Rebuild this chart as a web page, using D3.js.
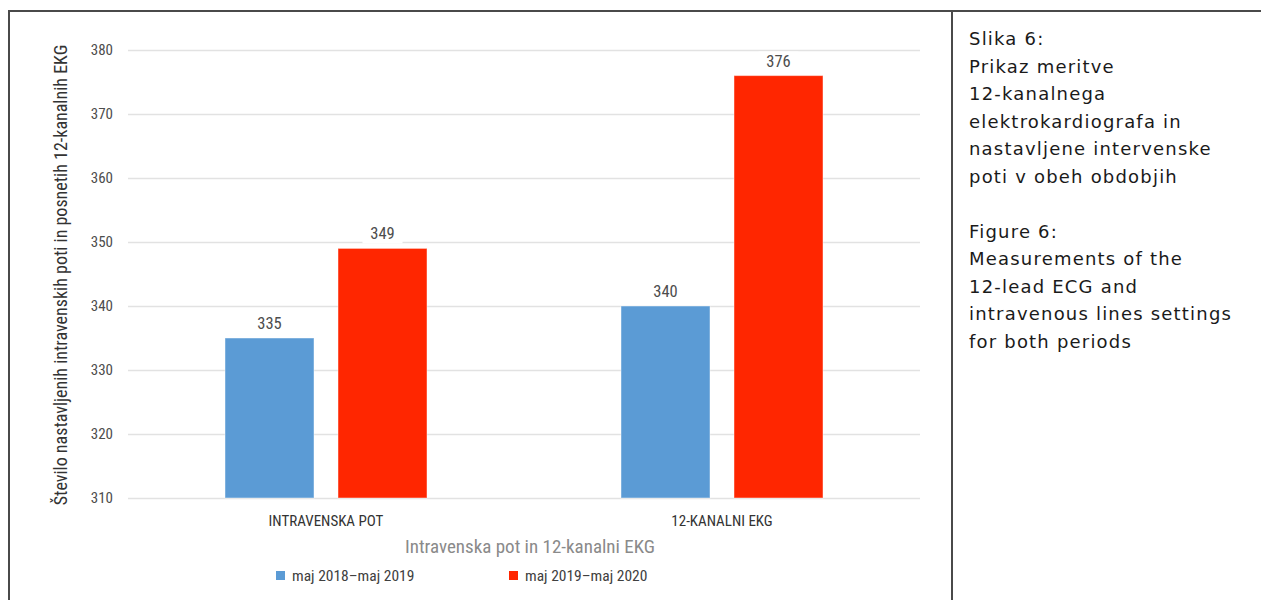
<!DOCTYPE html>
<html>
<head>
<meta charset="utf-8">
<script src="https://cdn.jsdelivr.net/npm/d3@7/dist/d3.min.js"></script>
<style>
  html, body { margin: 0; padding: 0; background: #fff; }
  svg { display: block; }
  .narrow { font-family: "Liberation Sans Narrow", "Roboto Condensed", "Arial Narrow", sans-serif; }
  .caption { font-family: "DejaVu Sans", "Noto Sans", sans-serif; letter-spacing: 1.2px; }
</style>
</head>
<body>
<svg id="chart" width="1261" height="600"></svg>
<script>
// Categories, series and values
const categories = ["INTRAVENSKA POT", "12-KANALNI EKG"];
const seriesNames = ["maj 2018–maj 2019", "maj 2019–maj 2020"];
const seriesColors = ["#5B9BD5", "#FF2600"];
const period1 = [335, 340];
const period2 = [349, 376];
const yTicks = [310, 320, 330, 340, 350, 360, 370, 380];

const yTitle = "Število nastavljenih intravenskih poti in posnetih 12-kanalnih EKG";
const xTitle = "Intravenska pot in 12-kanalni EKG";
const captionLines = [
  "Slika 6:", "Prikaz meritve", "12-kanalnega", "elektrokardiografa in",
  "nastavljene intervenske", "poti v obeh obdobjih", "",
  "Figure 6:", "Measurements of the", "12-lead ECG and",
  "intravenous lines settings", "for both periods"
];

const svg = d3.select("#chart");

// Frame: top rule, left rule and the divider between chart and caption
svg.append("line").attr("x1", 8).attr("x2", 1261).attr("y1", 11).attr("y2", 11)
  .attr("stroke", "#4a4a4a").attr("stroke-width", 2);
svg.append("line").attr("x1", 9).attr("x2", 9).attr("y1", 10).attr("y2", 600)
  .attr("stroke", "#4a4a4a").attr("stroke-width", 2);
svg.append("line").attr("x1", 952).attr("x2", 952).attr("y1", 10).attr("y2", 600)
  .attr("stroke", "#4a4a4a").attr("stroke-width", 2);

const plot = { left: 128, right: 920, top: 50, bottom: 498 };

const x0 = d3.scaleBand().domain(categories).range([plot.left, plot.right]).padding(0);
const x1 = d3.scaleBand().domain(seriesNames).range([-101, 101]).paddingInner(0.2124).paddingOuter(0);
const y = d3.scaleLinear().domain([310, 380]).range([plot.bottom, plot.top]);

// Horizontal gridlines and tick labels
const yAxis = d3.axisLeft(y).tickValues(yTicks).tickSize(-(plot.right - plot.left)).tickPadding(15).tickFormat(d3.format("d"));
const gy = svg.append("g").attr("transform", `translate(${plot.left},0)`).call(yAxis);
gy.select(".domain").remove();
gy.selectAll(".tick line").attr("stroke", "#e2e2e2").attr("stroke-width", 1.5);
gy.selectAll(".tick text").attr("class", "narrow").attr("font-size", 15).attr("fill", "#4d4d4d");

// Category labels
categories.forEach(c => {
  svg.append("text").attr("class", "narrow")
    .attr("x", x0(c) + x0.bandwidth() / 2).attr("y", 526)
    .attr("text-anchor", "middle").attr("font-size", 15).attr("fill", "#333")
    .text(c);
});

// Bars and value labels
const rows = categories.map((c, i) => ({ cat: c, vals: [period1[i], period2[i]] }));
rows.forEach(r => {
  const cx = x0(r.cat) + x0.bandwidth() / 2;
  r.vals.forEach((v, j) => {
    const bx = cx + x1(seriesNames[j]);
    svg.append("rect")
      .attr("x", bx).attr("y", y(v))
      .attr("width", x1.bandwidth()).attr("height", y(310) - y(v))
      .attr("fill", seriesColors[j])
      .attr("stroke", "rgba(255,255,255,0.45)").attr("stroke-width", 1);
    const lx = bx + x1.bandwidth() / 2;
    const ly = y(v) - 9;
    svg.append("rect").attr("x", lx - 20).attr("y", ly - 15).attr("width", 40).attr("height", 19)
      .attr("fill", "#fff");
    svg.append("text").attr("class", "narrow")
      .attr("x", lx).attr("y", ly)
      .attr("text-anchor", "middle").attr("font-size", 16.5).attr("fill", "#4d4d4d")
      .text(d3.format("d")(v));
  });
});

// Axis titles
svg.append("text").attr("class", "narrow")
  .attr("transform", `translate(67,${(plot.top + plot.bottom) / 2 + 1}) rotate(-90)`)
  .attr("text-anchor", "middle").attr("font-size", 18).attr("fill", "#333")
  .text(yTitle);
svg.append("text").attr("class", "narrow")
  .attr("x", 530).attr("y", 553)
  .attr("text-anchor", "middle").attr("font-size", 19).attr("fill", "#8a8a8a")
  .text(xTitle);

// Legend
const legendX = [276, 509];
seriesNames.forEach((s, j) => {
  const g = svg.append("g").attr("transform", `translate(${legendX[j]},571)`);
  g.append("rect").attr("width", 9).attr("height", 9).attr("fill", seriesColors[j]);
  g.append("text").attr("class", "narrow").attr("x", 16).attr("y", 10)
    .attr("font-size", 15.5).attr("fill", "#404040").text(s);
});

// Caption beside the chart
const cap = svg.append("text").attr("class", "caption")
  .attr("x", 969).attr("y", 45).attr("font-size", 18).attr("fill", "#1a1a1a");
captionLines.forEach((t, i) => {
  cap.append("tspan").attr("x", 969).attr("y", 45 + i * 27.5).text(t || " ");
});
</script>
</body>
</html>
